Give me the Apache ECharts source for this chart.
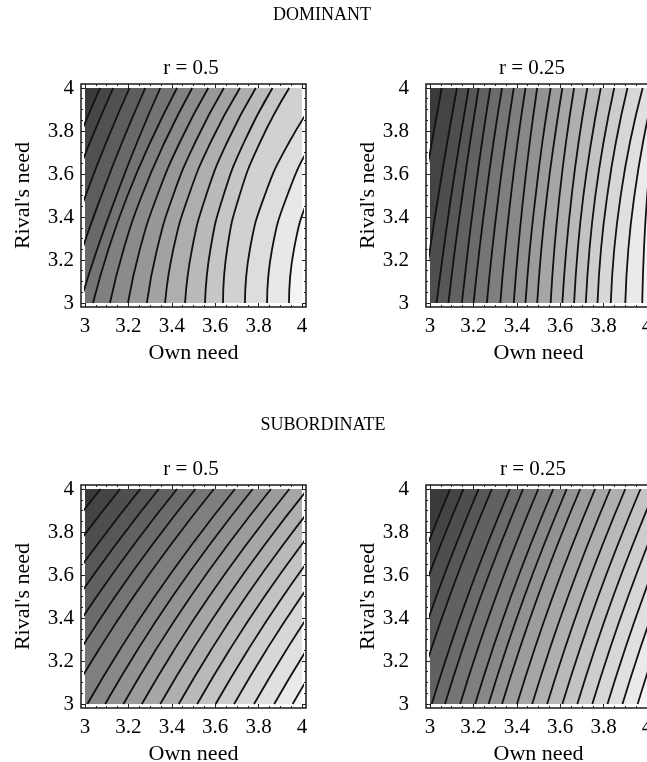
<!DOCTYPE html>
<html>
<head>
<meta charset="utf-8">
<script src="https://cdn.jsdelivr.net/npm/echarts@6/dist/echarts.min.js"></script>
<style>
  html, body { margin: 0; padding: 0; background: #fff; }
  #chart { width: 647px; height: 762px; }
</style>
</head>
<body>
<div id="chart"></div>
<script>
const levels = [3, 3.25, 3.5, 3.75, 4];

// own need of each contour line at those levels (left to right)
const dominantHalf = [
  [2.700, 2.779, 2.867, 2.964, 3.070],
  [2.760, 2.839, 2.927, 3.024, 3.130],
  [2.835, 2.914, 3.003, 3.099, 3.205],
  [2.908, 2.987, 3.076, 3.172, 3.278],
  [2.977, 3.056, 3.145, 3.241, 3.347],
  [3.037, 3.108, 3.196, 3.302, 3.424],
  [3.115, 3.178, 3.262, 3.368, 3.494],
  [3.198, 3.253, 3.333, 3.438, 3.568],
  [3.285, 3.332, 3.406, 3.509, 3.640],
  [3.369, 3.407, 3.478, 3.580, 3.714],
  [3.461, 3.493, 3.558, 3.656, 3.787],
  [3.553, 3.578, 3.638, 3.734, 3.864],
  [3.636, 3.655, 3.712, 3.808, 3.941],
  [3.737, 3.760, 3.828, 3.942, 4.101],
  [3.839, 3.862, 3.932, 4.047, 4.209],
  [3.940, 3.963, 4.034, 4.151, 4.315]
];
const dominantQuarter = [
  [2.890, 2.927, 2.966, 3.009, 3.054],
  [2.965, 3.000, 3.039, 3.080, 3.124],
  [3.030, 3.063, 3.098, 3.137, 3.178],
  [3.085, 3.115, 3.149, 3.185, 3.224],
  [3.147, 3.175, 3.206, 3.240, 3.278],
  [3.201, 3.228, 3.259, 3.293, 3.332],
  [3.262, 3.287, 3.316, 3.349, 3.386],
  [3.324, 3.346, 3.373, 3.404, 3.440],
  [3.386, 3.406, 3.431, 3.460, 3.494],
  [3.440, 3.460, 3.487, 3.518, 3.556],
  [3.494, 3.513, 3.539, 3.572, 3.610],
  [3.556, 3.573, 3.597, 3.627, 3.664],
  [3.610, 3.628, 3.653, 3.685, 3.725],
  [3.664, 3.681, 3.707, 3.743, 3.787],
  [3.718, 3.735, 3.762, 3.800, 3.849],
  [3.772, 3.788, 3.817, 3.857, 3.910],
  [3.833, 3.849, 3.879, 3.922, 3.980],
  [3.900, 3.914, 3.942, 3.982, 4.035],
  [3.978, 3.986, 4.001, 4.025, 4.060]
];
const subordinateHalf = [
  [2.392, 2.540, 2.702, 2.880, 3.072],
  [2.482, 2.630, 2.792, 2.970, 3.162],
  [2.575, 2.723, 2.885, 3.063, 3.255],
  [2.660, 2.808, 2.970, 3.148, 3.340],
  [2.744, 2.892, 3.054, 3.232, 3.424],
  [2.829, 2.977, 3.139, 3.317, 3.509],
  [2.914, 3.062, 3.224, 3.402, 3.594],
  [3.011, 3.159, 3.321, 3.499, 3.691],
  [3.093, 3.241, 3.403, 3.581, 3.773],
  [3.177, 3.325, 3.487, 3.665, 3.857],
  [3.262, 3.410, 3.572, 3.750, 3.942],
  [3.347, 3.495, 3.657, 3.835, 4.027],
  [3.432, 3.580, 3.742, 3.920, 4.112],
  [3.517, 3.665, 3.827, 4.005, 4.197],
  [3.602, 3.750, 3.912, 4.090, 4.282],
  [3.687, 3.835, 3.997, 4.175, 4.367],
  [3.779, 3.927, 4.089, 4.267, 4.459],
  [3.872, 4.020, 4.182, 4.360, 4.552],
  [3.957, 4.105, 4.267, 4.445, 4.637]
];
const subordinateQuarter = [
  [2.733, 2.812, 2.898, 2.992, 3.093],
  [2.794, 2.873, 2.959, 3.053, 3.154],
  [2.864, 2.943, 3.029, 3.123, 3.224],
  [2.925, 3.004, 3.090, 3.184, 3.285],
  [3.008, 3.087, 3.173, 3.267, 3.368],
  [3.069, 3.148, 3.234, 3.328, 3.429],
  [3.139, 3.218, 3.304, 3.398, 3.499],
  [3.208, 3.287, 3.373, 3.467, 3.568],
  [3.270, 3.349, 3.435, 3.529, 3.630],
  [3.332, 3.411, 3.497, 3.591, 3.692],
  [3.401, 3.480, 3.566, 3.660, 3.761],
  [3.471, 3.550, 3.636, 3.730, 3.831],
  [3.540, 3.619, 3.705, 3.799, 3.900],
  [3.610, 3.689, 3.775, 3.869, 3.970],
  [3.679, 3.758, 3.844, 3.938, 4.039],
  [3.748, 3.827, 3.913, 4.007, 4.108],
  [3.818, 3.897, 3.983, 4.077, 4.178],
  [3.887, 3.966, 4.052, 4.146, 4.247],
  [3.957, 4.036, 4.122, 4.216, 4.317]
];

const panelTitles = ['r = 0.5', 'r = 0.25', 'r = 0.5', 'r = 0.25'];
const sectionTitles = ['DOMINANT', 'SUBORDINATE'];

const font = '"Liberation Serif", "Times New Roman", serif';
const W = 217, H = 215;

const panels = [
  { lines: dominantHalf, left: 85, top: 88, labelMargin: 7, nameGap: 47, titleX: 191 },
  { lines: dominantQuarter, left: 430, top: 88, labelMargin: 17, nameGap: 45, titleX: 532 },
  { lines: subordinateHalf, left: 85, top: 489, labelMargin: 7, nameGap: 47, titleX: 191 },
  { lines: subordinateQuarter, left: 430, top: 489, labelMargin: 17, nameGap: 45, titleX: 533 }
];

const grid = [], xAxis = [], yAxis = [], series = [], graphic = [];

const frameAxis = {
  type: 'value', min: 3, max: 4, interval: 0.2, offset: 4,
  axisLine: { show: false, onZero: false },
  axisTick: { show: true, inside: true, length: 4, lineStyle: { color: '#222', width: 1 } },
  minorTick: { show: true, splitNumber: 4, length: 2, lineStyle: { color: '#222' } },
  splitLine: { show: false }
};
const labelStyle = { fontFamily: font, fontSize: 21, color: '#000' };
const nameStyle = { fontFamily: font, fontSize: 22, color: '#000' };

panels.forEach((p, i) => {
  const n = p.lines.length;
  const shade = k => {
    const g = Math.round(58 + (244 - 58) * k / n);
    return 'rgb(' + g + ',' + g + ',' + g + ')';
  };
  grid.push({ left: p.left, top: p.top, width: W, height: H, show: true,
    outerBoundsMode: 'none', containLabel: false,
    backgroundColor: shade(n), borderWidth: 0 });

  xAxis.push(Object.assign({}, frameAxis, {
    gridIndex: i, position: 'bottom',
    axisLabel: Object.assign({ margin: 9 }, labelStyle),
    name: 'Own need', nameLocation: 'middle', nameGap: 35, nameTextStyle: nameStyle
  }));
  xAxis.push(Object.assign({}, frameAxis, {
    gridIndex: i, position: 'top', axisLabel: { show: false }
  }));

  yAxis.push({ type: 'category', gridIndex: i, position: 'left', show: false,
    boundaryGap: false, data: levels.map(String) });
  yAxis.push(Object.assign({}, frameAxis, {
    gridIndex: i, position: 'left',
    axisLabel: Object.assign({ margin: p.labelMargin }, labelStyle),
    name: "Rival's need", nameLocation: 'middle', nameRotate: 90,
    nameGap: p.nameGap, nameTextStyle: nameStyle
  }));
  yAxis.push(Object.assign({}, frameAxis, {
    gridIndex: i, position: 'right', axisLabel: { show: false }
  }));

  // bands: each line fills toward own need = 3, painted right to left
  for (let j = n - 1; j >= 0; j--) {
    series.push({
      type: 'line', xAxisIndex: 2 * i, yAxisIndex: 3 * i,
      data: p.lines[j].map((x, k) => [x, k]),
      smooth: true, showSymbol: false, silent: true, z: 1,
      lineStyle: { width: 0 },
      areaStyle: { color: shade(j), opacity: 1, origin: 'start' }
    });
  }
  p.lines.forEach(line => {
    series.push({
      type: 'line', xAxisIndex: 2 * i, yAxisIndex: 3 * i,
      data: line.map((x, k) => [x, k]),
      smooth: true, showSymbol: false, silent: true, z: 3,
      lineStyle: { color: '#111', width: 1.8 }
    });
  });

  graphic.push({
    type: 'rect', silent: true, z: 10,
    shape: { x: p.left - 4, y: p.top - 4, width: W + 8, height: H + 8 },
    style: { fill: 'none', stroke: '#1a1a1a', lineWidth: 1.5 }
  });
  graphic.push({
    type: 'text', silent: true, x: p.titleX, y: p.top - 20,
    style: { text: panelTitles[i], font: '21px ' + font, fill: '#000',
      textAlign: 'center', textVerticalAlign: 'middle' }
  });
});

graphic.push({ type: 'text', x: 322, y: 15, silent: true,
  style: { text: sectionTitles[0], font: '18px ' + font, fill: '#000', textAlign: 'center', textVerticalAlign: 'middle' } });
graphic.push({ type: 'text', x: 323, y: 425, silent: true,
  style: { text: sectionTitles[1], font: '18px ' + font, fill: '#000', textAlign: 'center', textVerticalAlign: 'middle' } });

const chart = echarts.init(document.getElementById('chart'), null, { renderer: 'canvas' });
chart.setOption({
  animation: false,
  backgroundColor: '#fff',
  grid: grid,
  xAxis: xAxis,
  yAxis: yAxis,
  series: series,
  graphic: graphic
});
</script>
</body>
</html>
